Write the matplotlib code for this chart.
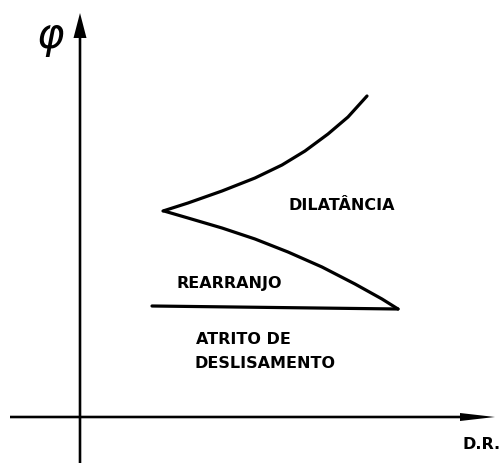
import matplotlib
matplotlib.use("Agg")
import matplotlib.pyplot as plt

# schematic, in pixel units (y grows downward)
upper_x = [163, 188, 222, 255, 282, 305, 328, 348, 367]
upper_y = [212, 204, 192, 179, 166, 152, 135, 118, 97]

lower_x = [164, 188, 222, 255, 288, 322, 355, 382, 398]
lower_y = [212, 219, 229, 240, 253, 268, 285, 300, 310]

base_x = [152, 398]
base_y = [307, 310]

labels = ["DILATÂNCIA", "REARRANJO", "ATRITO DE", "DESLISAMENTO", "D.R."]
label_x = [288, 177, 196, 194, 462]
label_y = [206, 284, 340, 364, 445]

fig = plt.figure(figsize=(5.04, 4.64), dpi=100)
ax = fig.add_axes([0, 0, 1, 1])
ax.set_xlim(0, 504)
ax.set_ylim(464, 0)
ax.axis("off")

lw = 2.3

# axes with arrows (one data unit = one pixel here)
ax.arrow(80, 464, 0, -450, width=2.6, head_width=13, head_length=25,
         length_includes_head=True, color="k", lw=0)
ax.arrow(10, 418, 485, 0, width=2.6, head_width=8, head_length=35,
         length_includes_head=True, color="k", lw=0)

# curves
ax.plot(upper_x, upper_y, color="k", lw=lw, solid_capstyle="round",
        solid_joinstyle="round")
ax.plot(lower_x, lower_y, color="k", lw=lw, solid_capstyle="round",
        solid_joinstyle="round")
ax.plot(base_x, base_y, color="k", lw=lw, solid_capstyle="round")

for txt, x, y in zip(labels, label_x, label_y):
    ax.text(x, y, txt, fontsize=11.5, fontweight="bold", family="DejaVu Sans",
            ha="left", va="center")

ax.text(50, 38, r"$\varphi$", fontsize=30, ha="center", va="center")

fig.savefig("out.png", dpi=100)
